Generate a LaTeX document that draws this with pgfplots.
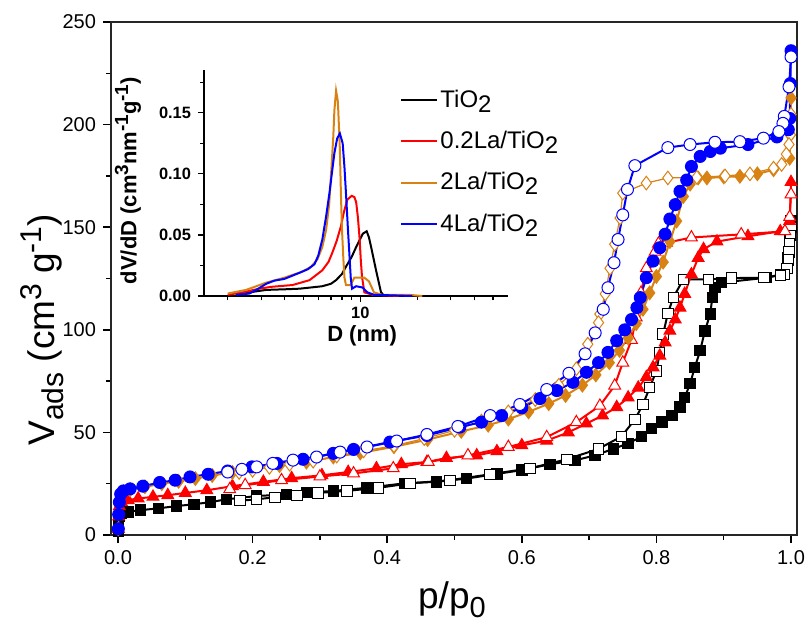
\documentclass[border=0pt]{standalone}
\usepackage{fontspec}
\setmainfont{Liberation Sans}
\usepackage{pgfplots}
\pgfplotsset{compat=1.18}
\definecolor{myorange}{RGB}{217,130,20}
\definecolor{myred}{RGB}{255,0,0}
\definecolor{myblue}{RGB}{0,0,255}
\begin{document}
\begin{tikzpicture}
\useasboundingbox (-55.5pt,-44pt) rectangle (347.5pt,267.5pt);
\begin{axis}[
  at={(0,0)}, anchor=south west,
  scale only axis, width=343pt, height=256.5pt,
  xmin=-0.0104, xmax=1.0089, ymin=0, ymax=250,
  xtick={0,0.2,0.4,0.6,0.8,1.0}, minor x tick num=1,
  ytick={0,50,100,150,200,250}, minor y tick num=1,
  xtick pos=bottom, ytick pos=left, tick align=outside,
  major tick length=4pt, minor tick length=2.5pt,
  xticklabel style={/pgf/number format/fixed, /pgf/number format/fixed zerofill, /pgf/number format/precision=1},
  /pgf/number format/assume math mode=true,
  tick label style={font=\fontsize{10}{12}\selectfont},
  axis line style={line width=0.75pt, black!85},
  every tick/.style={black, line width=0.75pt},
  xlabel={p/p\raisebox{-0.45ex}{\fontsize{14.5}{14}\selectfont 0}},
  ylabel={V\raisebox{-0.45ex}{\fontsize{15}{14}\selectfont ads} (cm\raisebox{0.7ex}{\fontsize{15}{14}\selectfont 3} g\raisebox{0.7ex}{\fontsize{15}{14}\selectfont -1})},
  label style={font=\fontsize{18.5}{20}\selectfont},
  xlabel style={at={(axis description cs:0.497,0)}, anchor=center, yshift=-32.5pt},
  ylabel style={at={(axis description cs:-0.1006,0.40)}, anchor=center},
  every axis plot/.append style={line width=1pt},
]
% TiO2 adsorption
\addplot[black, mark=square*, mark size=2.6pt, mark options={solid, line width=0.5pt}] coordinates {
(0.0005,2)(0.001,6)(0.002,9)(0.005,10.5)(0.015,11.3)(0.033,12.1)(0.06,13)(0.087,14.1)(0.113,15)(0.137,16)(0.161,17.4)(0.206,19)(0.25,19.8)(0.28,20.6)(0.32,21.5)(0.37,23)(0.426,25.2)(0.473,25.9)(0.518,27.5)(0.563,29.8)(0.60,31.6)(0.642,34.5)(0.679,36.4)(0.709,38.8)(0.736,42)(0.758,44.6)(0.778,48)(0.793,51.9)(0.808,55)(0.823,58.2)(0.835,62.3)(0.842,67)(0.85,73.7)(0.857,81.7)(0.865,89.8)(0.872,99.5)(0.88,107.7)(0.883,115.7)(0.887,120.5)(0.897,123)(0.964,125.4)(0.984,127)(0.995,135)(0.998,145)(1.0,153)};
% TiO2 desorption
\addplot[black, mark=square*, mark size=2.6pt, mark options={solid, fill=white, line width=0.5pt}] coordinates {
(1.0,150)(0.999,146)(0.998,142)(0.997,138)(0.996,134)(0.994,130)(0.99,127)(0.984,126.5)(0.96,125.4)(0.912,125.2)(0.877,124.6)(0.84,124.6)(0.825,115.7)(0.817,108)(0.81,98)(0.805,89)(0.80,80)(0.79,71.8)(0.78,63.6)(0.768,56.3)(0.748,48)(0.714,42)(0.667,36.9)(0.612,32.5)(0.553,29.6)(0.493,26.7)(0.434,25.2)(0.387,23)(0.34,21.5)(0.297,20.5)(0.266,19.4)(0.233,18.4)(0.206,17.4)(0.181,16.7)};
% 0.2La adsorption
\addplot[myred, mark=triangle*, mark size=3.4pt, mark options={solid, line width=0.5pt}] coordinates {
(0.0005,3)(0.001,9)(0.002,14)(0.005,16)(0.015,17)(0.03,17.8)(0.052,18.6)(0.074,19.4)(0.10,20.5)(0.132,21.8)(0.17,23.8)(0.216,25.9)(0.258,27.7)(0.303,29.1)(0.342,30.7)(0.384,32.5)(0.421,34.5)(0.459,35.6)(0.488,37.5)(0.533,38.8)(0.563,40.8)(0.6,43.7)(0.637,46)(0.669,50)(0.696,54.3)(0.72,58.2)(0.741,62.3)(0.758,67)(0.773,71.8)(0.785,76.9)(0.795,81.7)(0.805,87.4)(0.813,93.8)(0.82,99.5)(0.828,105)(0.835,110.8)(0.842,117.5)(0.852,127)(0.862,135)(0.87,139.3)(0.89,143)(0.936,145.6)(0.984,148)(0.998,153)(1.0,172)};
% 0.2La desorption
\addplot[myred, mark=triangle*, mark size=3.4pt, mark options={solid, fill=white, line width=0.5pt}] coordinates {
(1.0,166)(0.998,155)(0.991,148)(0.926,146.5)(0.852,145)(0.815,142.4)(0.803,142)(0.798,138)(0.785,130)(0.777,118)(0.77,106)(0.763,95)(0.75,84)(0.738,72.8)(0.716,63)(0.681,55)(0.637,47.7)(0.58,42.9)(0.52,38.8)(0.461,35.6)(0.409,32.5)(0.35,30)(0.3,28.5)(0.243,26.7)(0.189,24.3)(0.166,22.3)};
% 2La adsorption
\addplot[myorange, mark=diamond*, mark size=3.4pt, mark options={solid, line width=0.5pt}] coordinates {
(0.0005,3)(0.001,10)(0.002,15)(0.004,19)(0.008,21)(0.018,22)(0.04,23.5)(0.065,25)(0.09,26.2)(0.115,27.5)(0.14,29)(0.17,30.5)(0.2,32)(0.24,33.8)(0.28,35.5)(0.32,38)(0.36,40)(0.41,43)(0.46,46.5)(0.51,50.5)(0.55,53.5)(0.58,56.5)(0.61,60)(0.64,64)(0.665,68)(0.69,73)(0.71,78)(0.73,84)(0.745,90)(0.758,96)(0.77,103)(0.78,110)(0.79,118)(0.80,126)(0.81,133)(0.82,143)(0.83,153)(0.84,165)(0.85,171)(0.862,174)(0.875,174)(0.9,174.5)(0.924,174.8)(0.95,176)(0.974,178)(0.998,183.6)(0.999,195)(1.0,213)};
% 2La desorption
\addplot[myorange, line width=0.6pt, mark=diamond*, mark size=3.4pt, mark options={solid, fill=white, line width=0.5pt}] coordinates {
(1.0,205)(0.999,195)(0.997,190.3)(0.993,185.6)(0.986,180.6)(0.974,178.8)(0.939,176)(0.902,175)(0.86,174.3)(0.817,174)(0.785,171.5)(0.75,166.6)(0.746,154.5)(0.738,141.7)(0.731,130)(0.724,117.5)(0.716,107.7)(0.714,103.5)(0.698,93)(0.681,81)(0.655,73)(0.62,66)(0.58,60)(0.54,55.5)(0.5,51)(0.455,47)(0.41,43.5)(0.365,41)(0.325,38.5)(0.29,36)(0.255,34.5)(0.225,33)(0.2,31.5)(0.18,30.5)};
% 4La adsorption
\addplot[myblue, mark=*, mark size=3pt, mark options={solid, line width=0.5pt}] coordinates {
(0.0005,3)(0.001,10)(0.002,16)(0.004,20)(0.008,21.5)(0.018,22.5)(0.037,23.8)(0.062,25.6)(0.085,26.7)(0.107,28.3)(0.134,29.6)(0.163,31.2)(0.199,33.2)(0.236,34.9)(0.275,36.9)(0.32,39.8)(0.35,41.7)(0.404,45.3)(0.459,48.5)(0.508,52.6)(0.54,55)(0.57,58.2)(0.6,62)(0.627,66.5)(0.652,70.4)(0.676,74.4)(0.696,79.3)(0.714,84)(0.728,89)(0.741,94.7)(0.753,100)(0.763,105)(0.771,110.8)(0.776,115.7)(0.785,125.4)(0.795,133.5)(0.805,140)(0.813,146.6)(0.82,154)(0.828,161)(0.835,167.5)(0.845,173)(0.852,179.6)(0.865,184.5)(0.88,186.9)(0.895,188.5)(0.936,190.3)(0.979,194)(0.996,197.5)(0.998,203)(0.999,220)(1.0,236)};
% 4La desorption
\addplot[myblue, mark=*, mark size=3pt, mark options={solid, fill=white, line width=0.5pt}] coordinates {
(1.0,233)(0.997,218.4)(0.99,204)(0.988,200.6)(0.982,196.6)(0.959,193.4)(0.924,191.7)(0.887,191.4)(0.85,190.3)(0.817,188.8)(0.768,180)(0.757,168.4)(0.75,156)(0.743,144)(0.737,132.7)(0.728,120.5)(0.721,110)(0.709,98.5)(0.694,88.3)(0.67,78.8)(0.637,70.9)(0.597,63.6)(0.553,58.2)(0.505,52.9)(0.459,49)(0.414,45.8)(0.37,42.9)(0.33,40.4)(0.295,38)(0.26,36.5)(0.23,34.9)(0.206,33.2)(0.184,32)(0.163,30.7)};
\end{axis}
% Inset
\begin{axis}[
  at={(46.5pt,119.5pt)}, anchor=south west,
  scale only axis, width=152pt, height=113pt,
  xmode=log, xmin=1.5, xmax=60, ymin=0, ymax=0.185,
  axis x line=bottom, axis y line=left,
  axis line style={-, line width=0.75pt, black},
  xtick={10}, xticklabels={10},
  minor xtick={2,3,4,5,6,7,8,9,20,30,40,50},
  ytick={0,0.05,0.1,0.15}, minor ytick={0.025,0.075,0.125,0.175},
  yticklabel style={/pgf/number format/fixed, /pgf/number format/fixed zerofill, /pgf/number format/precision=2},
  /pgf/number format/assume math mode=true,
  tick align=outside, major tick length=3pt, minor tick length=2pt,
  every tick/.style={black, line width=0.6pt},
  tick label style={font=\bfseries\fontsize{8.2}{9}\selectfont},
  xticklabel style={yshift=1pt},
  label style={font=\bfseries\fontsize{11}{13}\selectfont},
  xlabel={D (nm)},
  ylabel={dV/dD (cm\raisebox{0.7ex}{\fontsize{9.5}{10}\selectfont 3}nm\raisebox{0.7ex}{\fontsize{9.5}{10}\selectfont -1}g\raisebox{0.7ex}{\fontsize{9.5}{10}\selectfont -1})},
  xlabel style={at={(axis description cs:0.52,0)}, anchor=center, yshift=-20pt},
  ylabel style={at={(axis description cs:-0.25,0.51)}, anchor=center},
  legend style={draw=none, fill=none, at={(axis description cs:0.625,0.95)}, anchor=north west,
    font=\fontsize{12}{14}\selectfont, row sep=6.5pt, legend cell align=left, nodes={inner xsep=1pt}},
  legend image code/.code={\draw[#1, line width=1pt] (0pt,0pt) -- (18pt,0pt);},
  every axis plot/.append style={line width=1pt},
]
\addplot[black] coordinates {(2.2,0.001)(2.6,0.003)(3.19,0.005)(4.0,0.0055)(4.78,0.006)(5.5,0.007)(6.3,0.008)(7.0,0.010)(7.45,0.013)(8.0,0.018)(8.4,0.024)(9.0,0.032)(9.5,0.040)(10.0,0.047)(10.3,0.051)(10.8,0.053)(11.1,0.048)(11.4,0.040)(12.1,0.021)(12.85,0.003)(13.3,0.0005)(15,0)};
\addlegendentry{TiO\raisebox{-0.4ex}{2}}
\addplot[myred] coordinates {(2.0,0.001)(2.4,0.003)(2.94,0.006)(3.39,0.0075)(4.4,0.009)(5.4,0.013)(6.3,0.021)(6.8,0.028)(7.1,0.035)(7.5,0.045)(7.9,0.057)(8.2,0.069)(8.55,0.079)(9.0,0.082)(9.3,0.081)(9.5,0.077)(9.7,0.065)(9.9,0.048)(10.05,0.030)(10.2,0.016)(10.5,0.003)(11.6,0.001)(16,0)};
\addlegendentry{0.2La/TiO\raisebox{-0.4ex}{2}}
\addplot[myorange] coordinates {(2.0,0.002)(2.5,0.005)(3.2,0.011)(3.98,0.015)(4.95,0.020)(5.5,0.024)(5.94,0.030)(6.3,0.040)(6.6,0.054)(6.85,0.075)(7.0,0.098)(7.2,0.13)(7.3,0.152)(7.45,0.168)(7.6,0.16)(7.65,0.152)(7.8,0.12)(7.9,0.084)(8.0,0.055)(8.14,0.030)(8.25,0.015)(8.4,0.009)(8.9,0.009)(9.3,0.015)(10.5,0.015)(11.1,0.012)(11.8,0.003)(13,0.001)(18,0.001)(21.2,0)};
\addlegendentry{2La/TiO\raisebox{-0.4ex}{2}}
\addplot[myblue] coordinates {(2.22,0.001)(2.6,0.002)(2.9,0.006)(3.19,0.010)(3.53,0.0126)(3.98,0.014)(4.78,0.019)(5.3,0.022)(5.73,0.026)(6.0,0.033)(6.3,0.046)(6.6,0.065)(6.87,0.084)(7.1,0.102)(7.3,0.117)(7.55,0.129)(7.8,0.133)(8.07,0.125)(8.25,0.105)(8.4,0.084)(8.6,0.055)(8.75,0.035)(8.9,0.015)(9.04,0.006)(9.5,0.008)(10.25,0.007)(10.9,0.003)(11.8,0.001)(18.8,0)};
\addlegendentry{4La/TiO\raisebox{-0.4ex}{2}}
\end{axis}
\end{tikzpicture}
\end{document}
